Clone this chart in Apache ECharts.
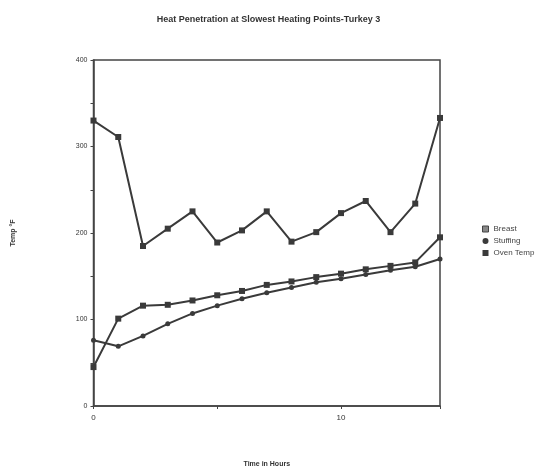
<!DOCTYPE html>
<html><head><meta charset="utf-8">
<script src="https://cdn.jsdelivr.net/npm/echarts@6/dist/echarts.min.js"></script>
<style>html,body{margin:0;padding:0;background:#fff}#c{width:537px;height:473px}</style>
</head><body><div id="c"></div>
<script>
const hours = [0,1,2,3,4,5,6,7,8,9,10,11,12,13,14];
const breast = [45,101,116,117,122,128,133,140,144,149,153,158,162,166,195];
const stuffing = [76,69,81,95,107,116,124,131,137,143,147,152,157,161,170];
const ovenTemp = [330,311,185,205,225,189,203,225,190,201,223,237,201,234,333];
const seriesNames = ['Breast','Stuffing','Oven Temp'];

const pair = arr => hours.map((h,i)=>[h,arr[i]]);
const col = '#3a3a3a';
const font = 'Liberation Sans, Arial, sans-serif';
const chart = echarts.init(document.getElementById('c'));
function mk(name, data, sym, size){
  return {name, type:'line', data:pair(data), symbol:sym, symbolSize:size,
    lineStyle:{color:col,width:2}, itemStyle:{color:col}, animation:false};
}
chart.setOption({
  animation:false,
  title:{text:'Heat Penetration at Slowest Heating Points-Turkey 3', left:'center', top:10,
    textStyle:{fontFamily:font,fontSize:9,fontWeight:'bold',color:'#333'}},
  grid:{left:93.5,right:97,top:60,bottom:66,show:true,borderColor:'#444',borderWidth:1.5},
  legend:{orient:'vertical', left:477, top:220, itemWidth:6, itemHeight:6, itemGap:4,
    textStyle:{fontFamily:font,fontSize:8,color:'#444'},
    data:[{name:'Breast',icon:'rect',itemStyle:{color:'#888',borderColor:'#444',borderWidth:1}},
          {name:'Stuffing',icon:'circle'},{name:'Oven Temp',icon:'rect'}]},
  xAxis:{type:'value',min:0,max:14,interval:10,
    name:'Time in Hours',nameLocation:'middle',nameGap:55,
    nameTextStyle:{fontFamily:font,fontSize:7,fontWeight:'bold',color:'#333'},
    axisLine:{show:true,lineStyle:{color:'#444',width:1.5}},
    axisTick:{show:true,length:3,lineStyle:{color:'#444'}},
    minorTick:{show:true,splitNumber:2,length:3,lineStyle:{color:'#444'}},
    splitLine:{show:false},
    axisLabel:{fontFamily:font,fontSize:8,color:'#333',margin:8,showMaxLabel:false,
      formatter:v=> (v%10===0? String(v):'')}},
  yAxis:{type:'value',min:0,max:400,interval:100,
    name:'Temp °F',nameLocation:'middle',nameGap:77,nameRotate:90,
    nameTextStyle:{fontFamily:font,fontSize:7,fontWeight:'bold',color:'#333'},
    axisLine:{show:true,lineStyle:{color:'#444',width:1.5}},
    axisTick:{show:true,length:3,lineStyle:{color:'#444'}},
    minorTick:{show:true,splitNumber:2,length:3,lineStyle:{color:'#444'}},
    splitLine:{show:false},
    axisLabel:{fontFamily:font,fontSize:7,color:'#333',margin:6}},
  series:[mk(seriesNames[0],breast,'rect',6), mk(seriesNames[1],stuffing,'circle',5), mk(seriesNames[2],ovenTemp,'rect',6)]
});
</script></body></html>
